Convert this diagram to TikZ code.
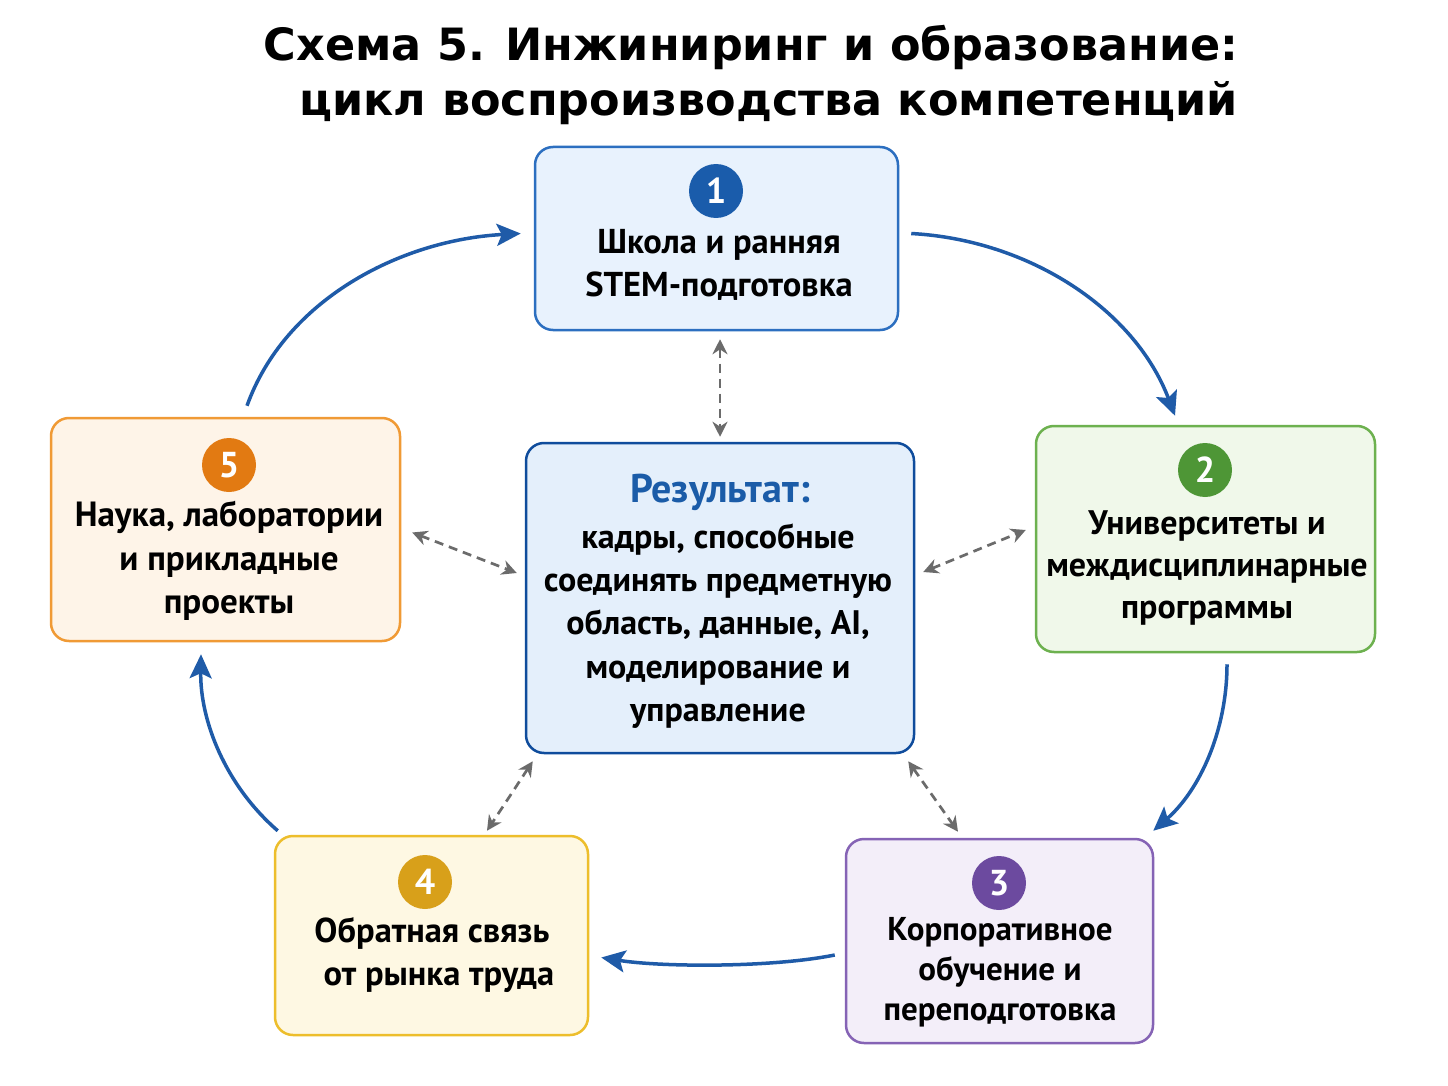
\documentclass[tikz,border=0pt]{standalone}
\usepackage{fontspec}
\setmainfont{PT Sans}
\newfontfamily\titlefont{DejaVu Sans}
\usetikzlibrary{arrows.meta,calc}
\definecolor{bOne}{HTML}{2C6FC0}\definecolor{fOne}{HTML}{E8F2FD}
\definecolor{bMid}{HTML}{0F4C9C}\definecolor{fMid}{HTML}{E4EFFB}
\definecolor{bTwo}{HTML}{6DB14F}\definecolor{fTwo}{HTML}{F0F8EA}
\definecolor{bThree}{HTML}{8563B5}\definecolor{fThree}{HTML}{F3EEF9}
\definecolor{bFour}{HTML}{EDBE2C}\definecolor{fFour}{HTML}{FEF8E3}
\definecolor{bFive}{HTML}{F09A35}\definecolor{fFive}{HTML}{FEF4E8}
\definecolor{cOne}{HTML}{1A5CAB}\definecolor{cTwo}{HTML}{4E9636}
\definecolor{cThree}{HTML}{6C4A9F}\definecolor{cFour}{HTML}{D8A01A}
\definecolor{cFive}{HTML}{E27A12}
\definecolor{cyc}{HTML}{1F5BA8}\definecolor{dgray}{HTML}{6B6B6B}
\definecolor{restitle}{HTML}{1B5CA8}
\tikzset{
  boxshape/.style={draw, line width=2.5pt, rounded corners=18pt, inner sep=0pt},
  boxtext/.style={align=center, inner sep=0pt, font=\bfseries\fontsize{34.5}{42.5}\selectfont},
  badge/.style={circle, inner sep=0pt, minimum size=54pt, text=white, font=\bfseries\fontsize{36}{36}\selectfont},
  cycarrow/.style={draw=cyc, line width=3.5pt, -{Stealth[length=24pt,width=22pt,inset=5pt]}},
  dasharrow/.style={draw=dgray, line width=2.7pt, dash pattern=on 9pt off 6pt, {Stealth[length=15pt,width=15pt]}-{Stealth[length=15pt,width=15pt]}}
}
\begin{document}
\begin{tikzpicture}[x=1pt,y=-1pt]
\useasboundingbox[fill=white] (0,0) rectangle (1448,1086);
% title
\node[inner sep=0pt, align=center, font=\titlefont\bfseries\fontsize{44.5}{55}\selectfont] (title) at (751,75)
  {Схема 5. Инжиниринг и образование:\\\hspace*{0.8em}цикл воспроизводства компетенций};
% boxes
\node[boxshape, draw=bOne, fill=fOne, minimum width=363pt, minimum height=183pt] (b1) at (716.5,238.5) {};
\node[boxshape, draw=bMid, fill=fMid, minimum width=388pt, minimum height=310pt] (c) at (720,598) {};
\node[boxshape, draw=bTwo, fill=fTwo, minimum width=339pt, minimum height=226pt] (b2) at (1205.5,539) {};
\node[boxshape, draw=bThree, fill=fThree, minimum width=307pt, minimum height=204pt] (b3) at (999.5,941) {};
\node[boxshape, draw=bFour, fill=fFour, minimum width=313pt, minimum height=199pt] (b4) at (431.5,935.5) {};
\node[boxshape, draw=bFive, fill=fFive, minimum width=349pt, minimum height=223pt] (b5) at (225.5,529.5) {};
% badges
\node[badge, fill=cOne] (n1) at (716,191) {1};
\node[badge, fill=cTwo] (n2) at (1205,470) {2};
\node[badge, fill=cThree] (n3) at (999,883) {3};
\node[badge, fill=cFour] (n4) at (425,882) {4};
\node[badge, fill=cFive] (n5) at (229,465) {5};
% texts
\node[boxtext] (t1) at (719,265) {Школа и ранняя\\STEM-подготовка};
\node[boxtext, font=\bfseries\fontsize{34}{42}\selectfont] (t2) at (1207,568) {Университеты и\\междисциплинарные\\программы};
\node[boxtext, font=\bfseries\fontsize{33}{40}\selectfont] (t3) at (1000,972) {Корпоративное\\обучение и\\переподготовка};
\node[boxtext, font=\bfseries\fontsize{34.5}{43}\selectfont] (t4) at (432,954.5) {Обратная связь\\\hspace*{0.4em}от рынка труда};
\node[boxtext, font=\bfseries\fontsize{35}{43.5}\selectfont] (t5) at (229,561) {Наука, лаборатории\\и прикладные\\проекты};
\node[inner sep=0pt, text=restitle, font=\bfseries\fontsize{40}{40}\selectfont] (rt) at (720,492) {Результат:};
\node[boxtext, font=\bfseries\fontsize{34}{43.3}\selectfont] (rc) at (718,626) {кадры, способные\\соединять предметную\\область, данные, AI,\\моделирование и\\управление};
% cycle arrows
\draw[cycarrow] ([xshift=21.5pt,yshift=11pt]b5.north) .. controls (285,300) and (400,240) .. ([xshift=-13pt,yshift=5pt]b1.west);
\draw[cycarrow] ([xshift=12pt,yshift=5pt]b1.east) .. controls (1030,240) and (1135,310) .. ([xshift=-30.5pt,yshift=9pt]b2.north);
\draw[cycarrow] ([xshift=21.5pt,yshift=-11pt]b2.south) .. controls (1227,730) and (1200,790) .. ([xshift=-1pt,yshift=7pt]b3.north east);
\draw[cycarrow] ([xshift=-10pt,yshift=-14pt]b3.west) .. controls (770,968) and (660,967) .. ([xshift=12pt,yshift=-22pt]b4.east);
\draw[cycarrow] ([xshift=4pt,yshift=4pt]b4.north west) .. controls (225,785) and (200,720) .. ([xshift=-24.5pt,yshift=-12pt]b5.south);
% dashed links
\draw[dasharrow] ([xshift=3.5pt,yshift=-8pt]b1.south) -- ([yshift=5pt]c.north);
\draw[dasharrow] ([xshift=11pt,yshift=-3pt]b5.east) -- ([xshift=-8pt,yshift=25pt]c.west);
\draw[dasharrow] ([xshift=8pt,yshift=26pt]c.east) -- ([xshift=-9pt,yshift=9pt]b2.west);
\draw[dasharrow] ([xshift=8pt,yshift=-7pt]c.south west) -- ([xshift=55.5pt,yshift=4pt]b4.north);
\draw[dasharrow] ([xshift=-7pt,yshift=-7pt]c.south east) -- ([xshift=-41.5pt,yshift=6pt]b3.north);
\end{tikzpicture}
\end{document}
